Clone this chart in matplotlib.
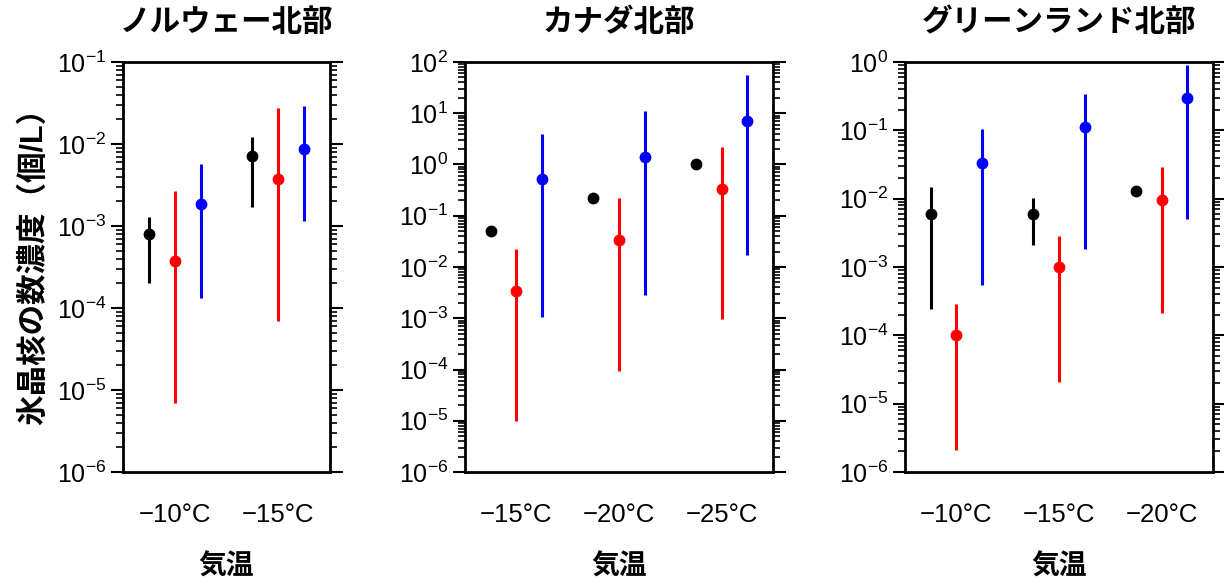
import matplotlib
matplotlib.use("Agg")
import matplotlib.pyplot as plt
from matplotlib.ticker import LogLocator, FixedLocator, NullFormatter

plt.rcParams['font.family'] = ['Liberation Sans', 'Noto Sans CJK JP']
plt.rcParams['mathtext.fontset'] = 'custom'
plt.rcParams['mathtext.rm'] = 'Liberation Sans'
plt.rcParams['mathtext.it'] = 'Liberation Sans:italic'
plt.rcParams['mathtext.bf'] = 'Liberation Sans:bold'

titles = ["ノルウェー北部", "カナダ北部", "グリーンランド北部"]
temps = [["−10°C", "−15°C"],
         ["−15°C", "−20°C", "−25°C"],
         ["−10°C", "−15°C", "−20°C"]]
ylims = [(1e-6, 1e-1), (1e-6, 1e2), (1e-6, 1e0)]
ydecades = [(-6, -1), (-6, 2), (-6, 0)]

# black series: value, low, high (None = no error bar)
black_val = [[8.1e-4, 7.2e-3], [0.050, 0.224, 1.0], [5.9e-3, 5.9e-3, 1.3e-2]]
black_lo = [[2.0e-4, 1.7e-3], [None, None, None], [2.4e-4, 2.1e-3, None]]
black_hi = [[1.3e-3, 1.22e-2], [None, None, None], [1.46e-2, 1.03e-2, None]]

red_val = [[3.7e-4, 3.7e-3], [3.4e-3, 3.4e-2, 0.34], [1.0e-4, 1.0e-3, 9.5e-3]]
red_lo = [[6.9e-6, 7.0e-5], [1.0e-5, 9.4e-5, 9.6e-4], [2.1e-6, 2.1e-5, 2.15e-4]]
red_hi = [[2.7e-3, 2.75e-2], [2.2e-2, 0.224, 2.2], [2.84e-4, 2.84e-3, 2.86e-2]]

blue_val = [[1.88e-3, 8.65e-3], [0.53, 1.41, 7.2], [3.3e-2, 0.11, 0.30]]
blue_lo = [[1.31e-4, 1.15e-3], [1.08e-3, 2.9e-3, 0.017], [5.45e-4, 1.83e-3, 5.1e-3]]
blue_hi = [[5.7e-3, 2.94e-2], [4.0, 10.9, 55.0], [0.103, 0.344, 0.89]]

series = [(black_val, black_lo, black_hi, 'black', -0.25),
          (red_val, red_lo, red_hi, 'red', 0.0),
          (blue_val, blue_lo, blue_hi, 'blue', 0.25)]

fig = plt.figure(figsize=(12.24, 5.81), dpi=100)
rects = [[0.1005, 0.1876, 0.169, 0.7057],
         [0.3799, 0.1876, 0.2516, 0.7057],
         [0.7394, 0.1876, 0.2516, 0.7057]]

for p in range(3):
    ax = fig.add_axes(rects[p])
    n = len(temps[p])
    for vals, los, his, col, off in series:
        for g in range(n):
            x = g + 0.5 + off
            lo = los[p][g]
            hi = his[p][g]
            if lo is not None:
                ax.plot([x, x], [lo, hi], color=col, lw=2.2, solid_capstyle='butt')
            ax.plot(x, vals[p][g], 'o', color=col, ms=7.5)
    ax.set_yscale('log')
    ax.set_ylim(*ylims[p])
    ax.set_xlim(0, n)
    lo_e, hi_e = ydecades[p]
    minors = [m * 10.0 ** e for e in range(lo_e, hi_e) for m in range(2, 10)]
    ax.yaxis.set_major_locator(LogLocator(base=10, numticks=30))
    ax.yaxis.set_minor_locator(FixedLocator(minors))
    ax.yaxis.set_minor_formatter(NullFormatter())
    ax.tick_params(axis='y', which='major', direction='out', length=9, width=1.5,
                   right=True, labelsize=18, pad=3)
    ax.tick_params(axis='y', which='minor', direction='out', length=5, width=1.2,
                   right=True)
    ax.set_xticks([g + 0.5 for g in range(n)])
    ax.set_xticklabels(temps[p])
    ax.tick_params(axis='x', length=0, labelsize=18.5, pad=22)
    for s in ax.spines.values():
        s.set_linewidth(2)
    ax.set_title(titles[p], fontsize=22, fontweight='bold', pad=22)
    ax.set_xlabel("気温", fontsize=20, fontweight='bold')
    ax.xaxis.set_label_coords(0.5, -0.2)
    if p == 0:
        ax.set_ylabel("氷晶核の数濃度（個/L）", fontsize=22, fontweight='bold')
        ax.yaxis.set_label_coords(-0.355, 0.52)

fig.savefig("out.png", dpi=100)
